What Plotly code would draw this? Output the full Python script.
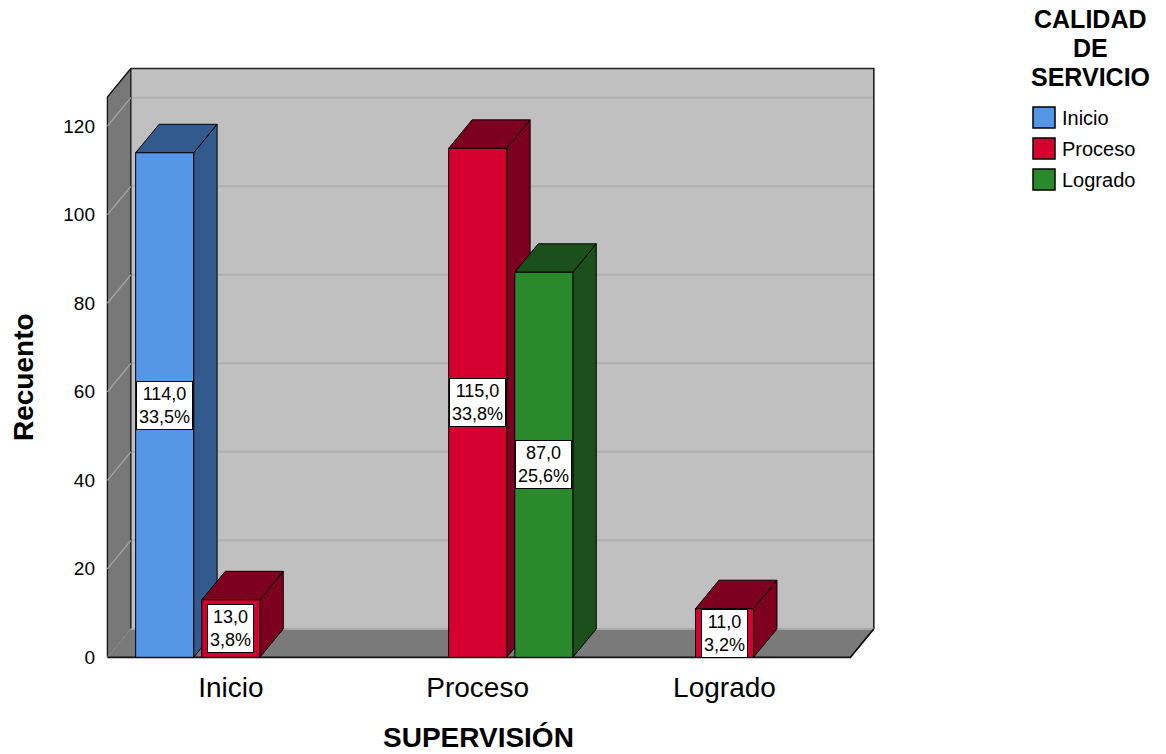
import plotly.graph_objects as go

# ---------------- data ----------------
categories = ["Inicio", "Proceso", "Logrado"]          # SUPERVISIÓN (x axis)
series_names = ["Inicio", "Proceso", "Logrado"]        # CALIDAD DE SERVICIO (legend)
counts_inicio = [114, 0, 0]
counts_proceso = [13, 115, 11]
counts_logrado = [0, 87, 0]
y_ticks = [0, 20, 40, 60, 80, 100, 120]

series_values = [counts_inicio, counts_proceso, counts_logrado]
front_colors = ["#5596E6", "#D5002F", "#2A8A2B"]
dark_colors = ["#335A8C", "#7D0020", "#1B4F1B"]

FONT = "Liberation Sans, Arial, sans-serif"

# ---------------- pseudo-3D geometry (data units) ----------------
BAR_W = 0.235
SLOT = 0.268
DX = 0.095
DY = 6.43
XL, XR = -0.5, 2.51
AXIS_TOP = 126.6
X_RANGE = [-0.53, 2.63]
Y_RANGE = [-0.6, 133.6]

W, H = 1166, 754
ML, MR, MT, MB = 100, 286, 66, 94
PW, PH = W - ML - MR, H - MT - MB


def px_x(px):
    return (px - ML) / PW


def px_y(py):
    return 1 - (py - MT) / PH


def poly(xs, ys, fill, line_color="black", line_width=1.0):
    return go.Scatter(
        x=list(xs) + [xs[0]], y=list(ys) + [ys[0]], mode="lines", fill="toself",
        fillcolor=fill, line=dict(color=line_color, width=line_width),
        hoverinfo="skip", showlegend=False)


def line(xs, ys, color, width=1.0):
    return go.Scatter(x=xs, y=ys, mode="lines", line=dict(color=color, width=width),
                      hoverinfo="skip", showlegend=False)


fig = go.Figure()

# back wall
fig.add_trace(poly([XL + DX, XR + DX, XR + DX, XL + DX],
                   [DY, DY, AXIS_TOP + DY, AXIS_TOP + DY], "#C0C0C0", "rgba(0,0,0,0)", 0))
# gridlines on back wall
for v in y_ticks[1:]:
    fig.add_trace(line([XL + DX, XR + DX], [v + DY, v + DY], "#B0B0B0", 2))
fig.add_trace(line([XL + DX, XR + DX, XR + DX], [AXIS_TOP + DY, AXIS_TOP + DY, DY], "#222222", 1.6))
# side wall
fig.add_trace(poly([XL, XL, XL + DX, XL + DX], [0, AXIS_TOP, AXIS_TOP + DY, DY], "#787878", "#111111", 1.3))
for v in y_ticks:
    fig.add_trace(line([XL, XL + DX], [v, v + DY], "#A8A8A8", 1.2))
# floor
fig.add_trace(poly([XL, XR, XR + DX, XL + DX], [0, 0, DY, DY], "#7A7A7A", "rgba(0,0,0,0)", 0))
fig.add_trace(line([XL + DX, XR + DX], [DY, DY], "#A8A8A8", 2))
fig.add_trace(line([XL, XR, XR + DX], [0, 0, DY], "#111111", 1.6))

# bars
total = sum(sum(s) for s in series_values)
annotations = []
for ci, cat in enumerate(categories):
    for si, vals in enumerate(series_values):
        v = vals[ci]
        if v <= 0:
            continue
        xc = ci + (si - 1) * SLOT
        x0, x1 = xc - BAR_W / 2, xc + BAR_W / 2
        # side face
        fig.add_trace(poly([x1, x1 + DX, x1 + DX, x1], [0, DY, v + DY, v], dark_colors[si]))
        # top face
        fig.add_trace(poly([x0, x1, x1 + DX, x0 + DX], [v, v, v + DY, v + DY], dark_colors[si]))
        # front face
        fig.add_trace(poly([x0, x1, x1, x0], [0, 0, v, v], front_colors[si]))
        pct = v / total * 100
        txt = f"{v:.1f}".replace(".", ",") + "<br>" + f"{pct:.1f}".replace(".", ",") + "%"
        annotations.append(dict(
            x=xc, y=v / 2, xref="x", yref="y", text=txt, showarrow=False,
            xanchor="center", yanchor="middle",
            font=dict(family=FONT, size=18, color="black"), bgcolor="white",
            bordercolor="black", borderwidth=1, borderpad=2, align="center"))

# axis titles
annotations.append(dict(x=px_x(23), y=px_y(377), xref="paper", yref="paper", text="<b>Recuento</b>",
                        textangle=-90, showarrow=False, xanchor="center", yanchor="middle",
                        font=dict(family=FONT, size=28, color="black")))
annotations.append(dict(x=px_x(478), y=px_y(737), xref="paper", yref="paper", text="<b>SUPERVISIÓN</b>",
                        showarrow=False, xanchor="center", yanchor="middle",
                        font=dict(family=FONT, size=28, color="black")))

# legend (manual)
for i, t in enumerate(["CALIDAD", "DE", "SERVICIO"]):
    annotations.append(dict(x=px_x(1090), y=px_y(19 + i * 29), xref="paper", yref="paper",
                            text=f"<b>{t}</b>", showarrow=False, xanchor="center", yanchor="middle",
                            font=dict(family=FONT, size=25, color="black")))
shapes = []
for i, name in enumerate(series_names):
    top = 107 + i * 31
    shapes.append(dict(type="rect", xref="paper", yref="paper",
                       x0=px_x(1033), x1=px_x(1055), y0=px_y(top + 21), y1=px_y(top),
                       fillcolor=front_colors[i], line=dict(color="black", width=1.5)))
    annotations.append(dict(x=px_x(1060), y=px_y(top + 11), xref="paper", yref="paper",
                            text=name, showarrow=False, xanchor="left", yanchor="middle",
                            font=dict(family=FONT, size=20, color="black")))

fig.update_layout(
    width=W, height=H, margin=dict(l=ML, r=MR, t=MT, b=MB, pad=0),
    paper_bgcolor="white", plot_bgcolor="white", showlegend=False,
    xaxis=dict(range=X_RANGE, tickvals=list(range(len(categories))), ticktext=categories,
               showgrid=False, zeroline=False, showline=False, ticks="",
               tickfont=dict(family=FONT, size=28, color="black"), ticklabelstandoff=8, fixedrange=True),
    yaxis=dict(range=Y_RANGE, tickvals=y_ticks, ticktext=[str(t) for t in y_ticks],
               showgrid=False, zeroline=False, showline=False, ticks="",
               tickfont=dict(family=FONT, size=19, color="black"), ticklabelstandoff=4, fixedrange=True),
    annotations=annotations, shapes=shapes,
)

fig.write_html("out.html")
